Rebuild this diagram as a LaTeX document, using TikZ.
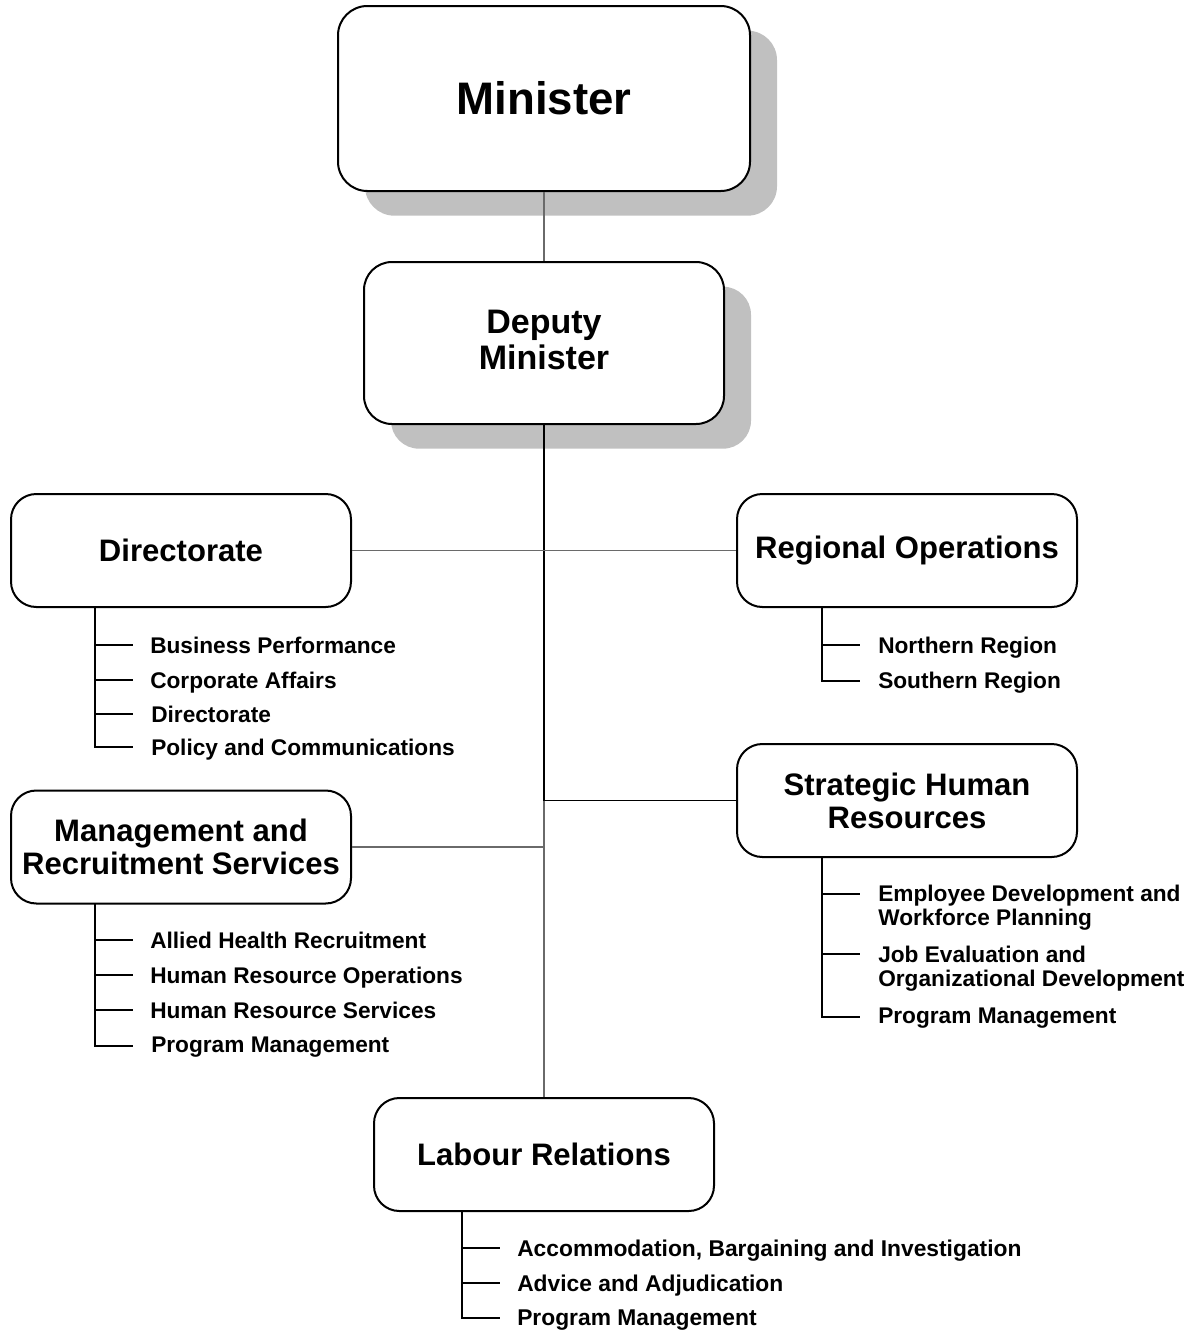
\documentclass[tikz,border=0pt]{standalone}
\usepackage{fontspec}
\setmainfont{Liberation Sans}
\usetikzlibrary{shadows}
\tikzset{
  mainbox/.style={draw=black, line width=1.5pt, fill=white, rounded corners=19pt,
    minimum width=255pt, minimum height=84.75pt, inner sep=0pt, align=center,
    font=\bfseries\fontsize{23.3pt}{24.75pt}\selectfont},
  shadowed/.style={drop shadow={shadow xshift=20.25pt, shadow yshift=-18.5pt, fill=shadowgray, opacity=1}},
  sublabel/.style={anchor=north west, inner sep=0pt, align=left,
    font=\bfseries\fontsize{17pt}{18pt}\selectfont},
  subline/.style={draw=black, line width=1.1pt},
  conngray/.style={draw=linegray, line width=1.2pt},
  connblack/.style={draw=black, line width=1.4pt},
}
\definecolor{shadowgray}{HTML}{C0C0C0}
\definecolor{linegray}{HTML}{6A6A6A}
\begin{document}
\begin{tikzpicture}[x=0.75pt,y=-0.75pt]
\useasboundingbox (0,0) rectangle (1203,1332);

% top boxes
\node[mainbox, shadowed, rounded corners=22pt, minimum width=309pt, minimum height=138.75pt,
      font=\bfseries\fontsize{34.2pt}{36pt}\selectfont] (min) at (544,98.5) {Minister};
\node[mainbox, shadowed, rounded corners=21pt, minimum width=270pt, minimum height=121.5pt,
      font=\bfseries\fontsize{25.5pt}{27pt}\selectfont] (dep) at (544,343) {Deputy\\Minister\rule[-4.5pt]{0pt}{0pt}};

% second level boxes
\node[mainbox] (dir) at (181,550.5) {Directorate};
\node[mainbox] (reg) at (907,550.5) {Regional Operations};
\node[mainbox] (shr) at (907,800.5) {Strategic Human\\Resources};
\node[mainbox] (mrs) at (181,847) {Management and\\Recruitment Services};
\node[mainbox] (lab) at (544,1154.5) {Labour Relations};

% junction coordinates on trunk
\coordinate (jd) at (544,550.5);
\coordinate (js) at (544,800.5);
\coordinate (jm) at (544,847);

% connectors
\draw[conngray] (min.south) -- (dep.north);
\draw[connblack] (dep.south) -- (js);
\draw[conngray] (js) -- (lab.north);
\draw[conngray] (dir.east) -- (reg.west);
\draw[connblack] (js) -- (shr.west);
\draw[conngray] (mrs.east) -- (jm);

% Directorate list
\node[sublabel] (d1) at (150,636.5) {Business Performance};
\node[sublabel] (d2) at (150,671.5) {Corporate Affairs};
\node[sublabel] (d3) at (151,705.5) {Directorate};
\node[sublabel] (d4) at (151,738.5) {Policy and Communications};
\coordinate (d0) at (95,607);
\coordinate (d1t) at (133,645);
\coordinate (d2t) at (133,680);
\coordinate (d3t) at (133,714);
\coordinate (d4t) at (133,747);
\draw[subline] (d0) |- (d4t);
\draw[subline] (d0 |- d1t) -- (d1t);
\draw[subline] (d0 |- d2t) -- (d2t);
\draw[subline] (d0 |- d3t) -- (d3t);

% Regional list
\node[sublabel] (r1) at (878,636.5) {Northern Region};
\node[sublabel] (r2) at (878,672) {Southern Region};
\coordinate (r0) at (822,607);
\coordinate (r1t) at (860,645);
\coordinate (r2t) at (860,681);
\draw[subline] (r0) |- (r2t);
\draw[subline] (r0 |- r1t) -- (r1t);

% Strategic HR list
\node[sublabel] (s1) at (878,884.5) {Employee Development and\\Workforce Planning};
\node[sublabel] (s2) at (878,945.5) {Job Evaluation and\\Organizational Development};
\node[sublabel] (s3) at (878,1007.5) {Program Management};
\coordinate (s0) at (822,857);
\coordinate (s1t) at (860,894);
\coordinate (s2t) at (860,954);
\coordinate (s3t) at (860,1017);
\draw[subline] (s0) |- (s3t);
\draw[subline] (s0 |- s1t) -- (s1t);
\draw[subline] (s0 |- s2t) -- (s2t);

% Management list
\node[sublabel] (m1) at (150,931.5) {Allied Health Recruitment};
\node[sublabel] (m2) at (150,966.5) {Human Resource Operations};
\node[sublabel] (m3) at (150,1001.5) {Human Resource Services};
\node[sublabel] (m4) at (151,1037) {Program Management};
\coordinate (m0) at (95,904);
\coordinate (m1t) at (133,940);
\coordinate (m2t) at (133,975);
\coordinate (m3t) at (133,1010);
\coordinate (m4t) at (133,1046);
\draw[subline] (m0) |- (m4t);
\draw[subline] (m0 |- m1t) -- (m1t);
\draw[subline] (m0 |- m2t) -- (m2t);
\draw[subline] (m0 |- m3t) -- (m3t);

% Labour list
\node[sublabel, font=\bfseries\fontsize{17.1pt}{18pt}\selectfont] (l1) at (517,1239.5) {Accommodation, Bargaining and Investigation};
\node[sublabel, font=\bfseries\fontsize{17.1pt}{18pt}\selectfont] (l2) at (517,1274.5) {Advice and Adjudication};
\node[sublabel, font=\bfseries\fontsize{17.1pt}{18pt}\selectfont] (l3) at (517,1309.5) {Program Management};
\coordinate (l0) at (462,1211);
\coordinate (l1t) at (500,1248);
\coordinate (l2t) at (500,1283);
\coordinate (l3t) at (500,1318);
\draw[subline] (l0) |- (l3t);
\draw[subline] (l0 |- l1t) -- (l1t);
\draw[subline] (l0 |- l2t) -- (l2t);
\end{tikzpicture}
\end{document}
